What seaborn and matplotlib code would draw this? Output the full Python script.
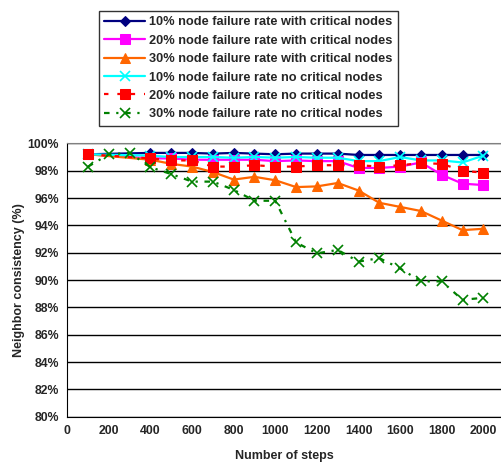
import pandas as pd
import matplotlib
matplotlib.use("Agg")
import matplotlib.pyplot as plt
import seaborn as sns

# -----------------------------
# Data
# -----------------------------

steps = [100, 400, 500, 600, 700, 800, 900, 1000, 1100, 1200,
         1300, 1400, 1500, 1600, 1700, 1800, 1900, 2000]

steps_all = [100, 200, 300, 400, 500, 600, 700, 800, 900, 1000,
             1100, 1200, 1300, 1400, 1500, 1600, 1700, 1800, 1900, 2000]

with_crit_10 = [99.2, 99.3, 99.3, 99.3, 99.25, 99.3, 99.25, 99.2, 99.25, 99.25,
                99.25, 99.15, 99.15, 99.15, 99.15, 99.15, 99.15, 99.15]
with_crit_20 = [99.2, 98.9, 98.9, 98.8, 98.8, 98.8, 98.8, 98.7, 98.75, 98.7,
                98.7, 98.2, 98.2, 98.3, 98.6, 97.7, 97.05, 96.95]
with_crit_30 = [99.2, 98.8, 98.5, 98.3, 97.9, 97.35, 97.55, 97.3, 96.8, 96.85,
                97.1, 96.55, 95.65, 95.35, 95.05, 94.35, 93.65, 93.75]
no_crit_10 = [99.2, 99.1, 99.0, 99.0, 99.0, 98.95, 99.0, 98.95, 99.0, 98.95,
              98.95, 98.7, 98.7, 99.0, 98.75, 98.75, 98.6, 99.1]
no_crit_20 = [99.2, 98.9, 98.75, 98.75, 98.3, 98.3, 98.4, 98.3, 98.3, 98.4,
              98.4, 98.4, 98.3, 98.4, 98.55, 98.5, 98.0, 97.85]
no_crit_30 = [98.3, 99.2, 99.3, 98.25, 97.75, 97.2, 97.2, 96.6, 95.8, 95.8,
              92.75, 91.95, 92.2, 91.35, 91.6, 90.85, 89.9, 89.9, 88.55, 88.7]

y_ticks = [80, 82, 84, 86, 88, 90, 92, 94, 96, 98, 100]
x_ticks = [0, 200, 400, 600, 800, 1000, 1200, 1400, 1600, 1800, 2000]

series = [
    ("10% node failure rate with critical nodes", steps, with_crit_10,
     dict(color="#000080", marker="D", markersize=5, linestyle="-")),
    ("20% node failure rate with critical nodes", steps, with_crit_20,
     dict(color="#FF00FF", marker="s", markersize=6.5, linestyle="-")),
    ("30% node failure rate with critical nodes", steps, with_crit_30,
     dict(color="#FF6600", marker="^", markersize=7.5, linestyle="-")),
    ("10% node failure rate no critical nodes", steps, no_crit_10,
     dict(color="#00FFFF", marker="x", markersize=6.5, markeredgewidth=1.2, linestyle="-")),
    ("20% node failure rate no critical nodes", steps, no_crit_20,
     dict(color="#FF0000", marker="s", markersize=6.5, linestyle=(0, (2, 4)))),
    ("30% node failure rate no critical nodes", steps_all, no_crit_30,
     dict(color="#008000", marker="x", markersize=7.5, markeredgewidth=1.2,
          linestyle=(0, (2.5, 3, 1, 3)))),
]

# -----------------------------
# Plot
# -----------------------------

sns.set_style("white")
plt.rcParams["font.family"] = ["Liberation Sans", "DejaVu Sans"]
plt.rcParams["font.weight"] = "bold"

fig = plt.figure(figsize=(5.01, 4.70), dpi=100)
ax = fig.add_axes([0.1343, 0.1134, 0.8657, 0.5816])

for label, x, y, style in series:
    df = pd.DataFrame({"step": x, "value": y})
    sns.lineplot(data=df, x="step", y="value", ax=ax, label=label,
                 linewidth=1.6, markeredgecolor=style["color"], legend=False,
                 **style)

ax.set_xlim(0, 2085)
ax.set_ylim(80, 100)
ax.set_xticks(x_ticks)
ax.set_yticks(y_ticks)
ax.set_yticklabels([f"{v}%" for v in y_ticks])
ax.tick_params(axis="both", direction="in", length=4, width=1, color="black",
               labelsize=8.8, pad=6)
for lbl in ax.get_xticklabels() + ax.get_yticklabels():
    lbl.set_fontweight("bold")

ax.yaxis.grid(True, color="black", linewidth=1)
ax.set_axisbelow(True)

ax.spines["right"].set_visible(False)
ax.spines["top"].set_color("#808080")
ax.spines["left"].set_color("black")
ax.spines["bottom"].set_color("black")

ax.set_xlabel("Number of steps", fontsize=9, fontweight="bold", labelpad=9)
ax.set_ylabel("Neighbor consistency (%)", fontsize=9, fontweight="bold", labelpad=2)

handles, labels = ax.get_legend_handles_labels()
leg = fig.legend(handles, labels, loc="upper left",
                 bbox_to_anchor=(0.184, 0.991), frameon=True, fancybox=False,
                 edgecolor="black", fontsize=9.2, handlelength=3.2,
                 labelspacing=0.5, borderpad=0.45, handletextpad=0.3)
leg.get_frame().set_linewidth(1)
for t in leg.get_texts():
    t.set_fontweight("bold")

fig.savefig("out.png", dpi=100)
